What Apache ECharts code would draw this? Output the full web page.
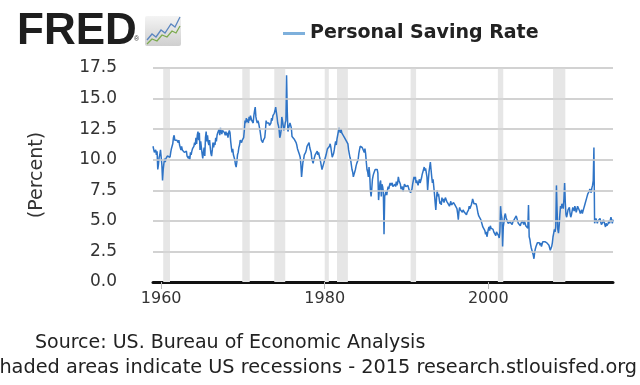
<!DOCTYPE html>
<html><head><meta charset="utf-8">
<script src="https://cdn.jsdelivr.net/npm/echarts@6/dist/echarts.min.js"></script>
<style>html,body{margin:0;padding:0;background:#fff;}#c{width:640px;height:385px;}</style>
</head><body><div id="c"></div>
<script>
// Monthly Personal Saving Rate, Jan 1959 onward (one row per year)
const startYear = 1959;
const rates = [
 11.1,11.0,10.6,10.5,10.8,10.4,10.7,9.2,9.6,10.2,10.4,10.8,
 10.8,9.6,8.3,9.2,9.7,10.1,9.8,10.1,10.0,10.3,10.2,10.4,
 10.4,10.2,10.6,10.9,11.0,11.3,11.8,12.0,11.6,11.7,11.5,11.6,
 11.5,11.4,11.6,11.2,11.0,10.8,11.1,10.8,10.7,10.9,10.6,10.5,
 10.5,10.7,10.3,10.4,10.1,10.3,10.0,10.6,10.4,10.7,10.9,11.0,
 11.1,11.4,11.2,11.8,11.3,12.0,12.3,11.6,12.2,10.8,11.5,11.0,
 10.5,10.1,10.6,11.0,10.3,11.8,12.3,11.5,12.0,11.4,11.2,11.6,
 11.0,10.5,10.3,10.8,11.4,11.0,11.4,11.2,11.8,11.5,12.0,12.2,
 12.2,12.5,12.0,12.6,12.3,12.1,12.4,12.3,12.5,12.2,12.0,12.3,
 12.0,12.2,11.8,12.2,12.4,12.2,11.5,11.0,10.6,10.9,10.4,10.2,
 10.0,9.6,9.4,9.8,10.4,10.6,11.0,11.2,11.6,11.5,11.4,11.6,
 11.6,11.8,12.4,13.2,13.0,13.4,13.1,13.3,13.0,13.5,13.2,13.6,
 13.4,13.2,13.3,13.0,13.6,14.0,14.3,13.5,13.2,13.0,13.2,13.0,
 13.0,12.4,12.0,11.6,11.5,11.4,11.6,11.5,11.8,12.4,13.2,13.0,
 13.1,12.9,13.0,12.8,12.7,13.0,13.4,13.2,13.6,13.5,13.8,14.0,
 14.3,13.9,13.5,13.0,12.8,12.5,11.8,12.0,12.4,13.5,13.2,12.8,
 12.4,12.6,13.0,13.2,16.9,14.0,12.3,12.6,12.8,13.0,12.9,12.6,
 11.9,11.8,11.9,11.7,11.6,11.8,11.4,11.2,10.9,11.0,10.8,10.4,
 10.2,9.6,8.6,9.2,9.8,10.0,10.4,10.3,10.6,10.8,11.1,11.0,
 11.1,11.4,11.0,10.8,10.6,10.1,9.9,9.7,10.0,10.2,10.4,10.5,
 10.5,10.7,10.4,10.6,10.3,10.1,9.8,9.5,9.2,9.4,9.6,9.8,
 10.0,10.2,10.4,10.5,10.9,11.0,10.8,11.1,11.3,11.0,10.6,10.2,
 10.2,10.5,10.8,11.2,11.5,11.2,11.7,12.0,12.3,12.6,12.4,12.2,
 12.5,12.2,12.3,12.0,12.1,11.8,11.9,11.6,11.7,11.6,11.3,10.8,
 10.5,10.2,10.0,9.6,9.2,9.0,8.6,8.8,9.0,9.2,9.5,9.7,
 9.7,10.0,10.5,10.8,11.1,11.0,11.2,11.0,11.1,11.0,10.6,10.9,
 10.5,9.8,9.2,9.0,8.6,9.4,8.8,7.5,7.0,7.6,8.4,8.7,
 8.9,9.0,9.2,9.3,9.1,9.2,8.9,6.7,7.4,8.1,8.3,7.0,
 8.0,7.8,7.4,3.9,7.0,7.2,7.4,7.1,7.5,7.8,7.6,7.9,
 8.1,7.9,8.0,8.1,7.8,7.9,7.7,8.0,7.8,8.2,7.9,8.1,
 8.6,8.3,8.4,8.0,7.6,7.5,7.8,7.4,7.7,8.0,8.1,7.8,
 7.9,7.7,7.9,7.8,7.5,7.6,7.3,7.4,7.6,8.0,8.3,8.6,
 8.4,8.6,8.1,8.3,8.1,7.9,8.2,8.4,8.1,8.3,8.5,8.8,
 9.0,9.2,9.4,9.1,9.3,9.2,8.6,7.5,8.3,9.0,9.4,9.8,
 9.2,8.6,8.1,8.4,7.8,7.2,6.5,5.9,6.8,7.5,7.0,7.2,
 6.8,6.4,6.6,6.3,6.9,6.6,6.8,6.5,6.7,6.9,6.8,6.6,
 6.6,6.4,6.5,6.2,6.4,6.6,6.3,6.4,6.2,6.5,6.4,6.3,
 6.2,6.3,6.0,5.6,5.1,5.8,6.1,5.9,6.0,5.9,5.7,5.9,
 5.9,5.7,5.6,5.8,5.5,5.7,5.6,5.9,6.2,6.0,6.1,6.3,
 6.5,6.8,6.6,6.4,6.3,6.5,6.4,6.2,5.9,5.6,5.4,5.3,
 5.3,5.1,4.9,4.7,4.5,4.6,4.4,4.2,3.9,4.1,3.7,4.0,
 4.3,4.5,4.2,4.6,4.4,4.3,4.5,4.3,4.1,4.0,4.2,3.8,
 4.1,4.0,4.2,3.8,3.6,4.1,6.2,5.5,5.2,2.9,4.5,4.9,
 5.4,5.6,5.3,5.1,5.0,4.8,4.7,4.8,4.9,5.0,4.8,4.7,
 4.9,4.8,5.0,5.2,5.3,5.4,5.5,5.0,4.8,4.9,4.8,4.6,
 4.8,4.9,5.0,4.9,4.7,5.0,4.8,4.6,4.5,4.6,4.4,6.3,
 3.7,3.5,3.1,2.8,2.6,2.4,2.2,1.9,2.4,2.7,2.9,3.0,
 3.2,3.1,3.3,3.2,3.0,3.2,2.9,3.1,3.3,3.4,3.2,3.3,
 3.4,3.3,3.2,3.1,3.3,3.0,2.8,2.6,2.7,2.9,3.2,3.7,
 4.0,4.3,4.1,4.5,7.9,5.8,4.3,4.0,4.6,5.5,6.2,6.0,
 6.4,6.2,6.0,6.8,8.1,6.5,5.5,5.3,5.6,5.9,5.8,6.1,
 5.6,5.3,5.5,5.8,6.1,6.0,5.8,6.2,6.0,5.7,5.9,6.2,
 6.3,6.2,5.8,5.6,5.7,5.9,5.6,5.8,6.0,6.2,6.4,6.5,
 6.8,7.0,7.2,7.1,7.4,7.6,7.5,7.3,7.7,7.9,8.3,11.0,
 4.8,5.0,5.2,5.1,4.8,5.0,4.9,5.1,5.2,4.9,4.7,4.8,
 4.9,5.1,5.0,4.7,4.5,4.8,4.6,4.7,4.8,5.0,4.8,4.9,
 5.3,5.4,4.8,5.1
];
// Recession periods [start, end] as decimal years
const recessions = [
 [1960.25,1961.08],[1969.92,1970.83],[1973.83,1975.17],[1980.0,1980.5],
 [1981.5,1982.83],[1990.5,1991.17],[2001.17,2001.83],[2007.92,2009.42]
];
const yTicks = [2.5,5,7.5,10,12.5,15,17.5];
const xTickLabels = [1960,1980,2000];
const seriesName = 'Personal Saving Rate';

const points = rates.map((v,i)=>[startYear + i/12, v]);

const chart = echarts.init(document.getElementById('c'), null, {renderer:'canvas'});
const labelFont = 'DejaVu Sans';
chart.setOption({
  animation:false,
  backgroundColor:'#fff',
  grid:{left:153,right:27,top:68,bottom:103,containLabel:false},
  legend:{
    left:278, top:19, itemWidth:22, itemHeight:3, itemGap:8,
    icon:'rect',
    data:[{name:seriesName, itemStyle:{color:'#7eb0dc'}}],
    textStyle:{fontFamily:labelFont, fontWeight:'bold', fontSize:19, color:'#222'}
  },
  xAxis:{
    type:'value', min:startYear, max:startYear + (rates.length-1)/12,
    axisLine:{show:true, onZero:false, lineStyle:{color:'#111', width:3}},
    axisTick:{show:true, customValues:xTickLabels, length:7, lineStyle:{color:'#bbb', width:1}},
    axisLabel:{customValues:xTickLabels, fontFamily:labelFont, fontSize:16, color:'#333', margin:9,
      formatter:v=>String(Math.round(v))},
    splitLine:{show:false}
  },
  yAxis:{
    type:'value', min:0, max:17.5, interval:2.5,
    name:'(Percent)', nameLocation:'middle', nameGap:106, nameRotate:90,
    nameTextStyle:{fontFamily:labelFont, fontSize:19, color:'#333'},
    axisLine:{show:false}, axisTick:{show:false},
    axisLabel:{fontFamily:labelFont, fontSize:17, color:'#333', margin:36,
      formatter:v=>v.toFixed(1)},
    splitLine:{show:true, lineStyle:{color:'#cfcfcf', width:1.5, type:'solid'}}
  },
  series:[
    {
      name:'bands', type:'line', data:[], z:1, silent:true,
      markArea:{silent:true, itemStyle:{color:'#e6e6e6'},
        data:recessions.map(r=>[{xAxis:r[0]},{xAxis:r[1]}])}
    },
    {
      name:'grid', type:'line', data:[], z:2, silent:true,
      markLine:{silent:true, symbol:['none','none'], label:{show:false},
        lineStyle:{color:'#cfcfcf', width:1.5, type:'solid'},
        data:yTicks.map(v=>({yAxis:v}))}
    },
    {
      name:seriesName, type:'line', data:points, showSymbol:false, symbol:'none',
      lineStyle:{color:'#2f74c6', width:1.5}, itemStyle:{color:'#2f74c6'}, z:3
    }
  ],
  graphic:[
    {type:'text', left:17, top:10, style:{text:'FRED', fontFamily:'Liberation Sans', fontWeight:900, fontSize:44, fill:'#1e1e1e'}},
    {type:'text', left:134, top:36, style:{text:'®', fontFamily:'Liberation Sans', fontSize:7, fill:'#333'}},
    {type:'rect', shape:{x:145,y:16,width:36,height:30,r:2}, style:{fill:new echarts.graphic.LinearGradient(0,0,0,1,[{offset:0,color:'#f4f4f4'},{offset:1,color:'#cfcfcf'}])}},
    {type:'polyline', shape:{points:[[147,40],[152,34],[156,37],[161,30],[165,33],[171,24],[175,27],[180,17]]}, style:{stroke:'#5b86c0', lineWidth:1.3, fill:null}},
    {type:'polyline', shape:{points:[[147,44],[152,39],[157,41],[162,35],[167,37],[172,31],[176,33],[180,26]]}, style:{stroke:'#7caa4e', lineWidth:1.3, fill:null}},
    {type:'text', left:35, top:334, style:{text:'Source: US. Bureau of Economic Analysis', fontFamily:labelFont, fontSize:19, fill:'#222'}},
    {type:'text', right:3, top:358, style:{text:'Shaded areas indicate US recessions - 2015 research.stlouisfed.org', fontFamily:labelFont, fontSize:19.3, fill:'#222'}}
  ]
});
</script></body></html>
